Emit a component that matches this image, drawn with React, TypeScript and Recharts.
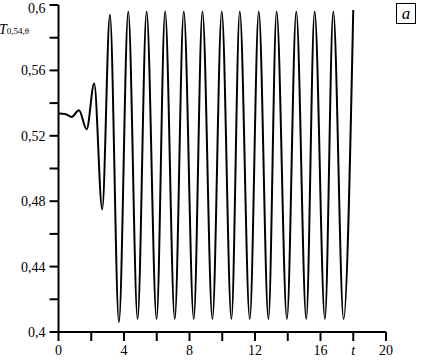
import React from "react";
import { LineChart, Line, XAxis, YAxis } from "recharts";

// time points and the value of the curve
const times = [
  0, 0.4, 0.8, 1.25, 1.72, 2.18, 2.67, 3.14, 3.69, 4.26, 4.83, 5.38, 5.99,
  6.51, 7.1, 7.65, 8.26, 8.79, 9.4, 9.97, 10.56, 11.07, 11.68, 12.23, 12.82,
  13.32, 13.95, 14.52, 15.13, 15.64, 16.27, 16.78, 17.41, 18.0,
];
const values = [
  0.5336, 0.5334, 0.5315, 0.5356, 0.524, 0.552, 0.475, 0.594, 0.406, 0.596,
  0.408, 0.596, 0.408, 0.596, 0.408, 0.596, 0.408, 0.596, 0.408, 0.596,
  0.408, 0.596, 0.408, 0.596, 0.408, 0.596, 0.408, 0.596, 0.408, 0.596,
  0.408, 0.596, 0.408, 0.597,
];

const xTicks = [0, 2, 4, 6, 8, 10, 12, 14, 16, 18, 20];
const xLabels = [0, 4, 8, 12, 16, 20];
const yTicks = [0.4, 0.42, 0.44, 0.46, 0.48, 0.5, 0.52, 0.54, 0.56, 0.58, 0.6];
const yLabels = [0.4, 0.44, 0.48, 0.52, 0.56, 0.6];

const data = times.map((t, i) => ({ t, v: values[i] }));

const font = '"Liberation Serif", "DejaVu Serif", serif';

const XTick = (props: any) => {
  const { x, y, payload } = props;
  const v = payload.value;
  if (v === 18) {
    return (
      <text x={x} y={y} dy={12} textAnchor="middle" fontFamily={font} fontSize={14} fontStyle="italic" fill="#000">
        t
      </text>
    );
  }
  if (!xLabels.includes(v)) return <g />;
  return (
    <text x={x} y={y} dy={12} textAnchor="middle" fontFamily={font} fontSize={14} fill="#000">
      {v}
    </text>
  );
};

const YTick = (props: any) => {
  const { x, y, payload } = props;
  const v = payload.value;
  if (!yLabels.some((l) => Math.abs(l - v) < 1e-6)) return <g />;
  // top label is nudged down so it stays inside the page
  const shift = Math.abs(v - 0.6) < 1e-6 ? 3 : 0;
  return (
    <text x={x} y={y + shift} dy={5} textAnchor="end" fontFamily={font} fontSize={14} fill="#000">
      {String(+v.toFixed(2)).replace(".", ",")}
    </text>
  );
};

export default function App() {
  return (
    <div style={{ position: "absolute", left: 0, top: 0, width: 421, height: 360, background: "#fff" }}>
      <LineChart
        width={421}
        height={360}
        data={data}
        margin={{ top: 5, right: 35, bottom: 8, left: 8.5 }}
      >
        <XAxis
          dataKey="t"
          type="number"
          domain={[0, 20]}
          ticks={xTicks}
          tick={<XTick />}
          tickSize={9}
          tickMargin={2}
          height={20}
          axisLine={{ stroke: "#000", strokeWidth: 2 }}
          tickLine={{ stroke: "#000", strokeWidth: 2 }}
          interval={0}
        />
        <YAxis
          type="number"
          domain={[0.4, 0.6]}
          ticks={yTicks}
          tick={<YTick />}
          tickSize={9}
          tickMargin={4}
          width={50}
          interval={0}
          axisLine={{ stroke: "#000", strokeWidth: 2 }}
          tickLine={{ stroke: "#000", strokeWidth: 2 }}
        />
        <Line
          dataKey="v"
          type="monotone"
          stroke="#000"
          strokeWidth={2}
          dot={false}
          isAnimationActive={false}
        />
      </LineChart>
      <div
        style={{
          position: "absolute",
          left: -1,
          top: 22,
          fontFamily: font,
          fontStyle: "italic",
          fontSize: 14,
          color: "#000",
          whiteSpace: "nowrap",
        }}
      >
        T<span style={{ fontSize: 9, fontStyle: "normal" }}>0,54,θ</span>
      </div>
      <div
        style={{
          position: "absolute",
          left: 396,
          top: 3,
          width: 20,
          height: 21,
          border: "1px solid #000",
          fontFamily: font,
          fontStyle: "italic",
          fontSize: 17,
          lineHeight: "20px",
          textAlign: "center",
          color: "#000",
          boxSizing: "border-box",
        }}
      >
        a
      </div>
    </div>
  );
}
